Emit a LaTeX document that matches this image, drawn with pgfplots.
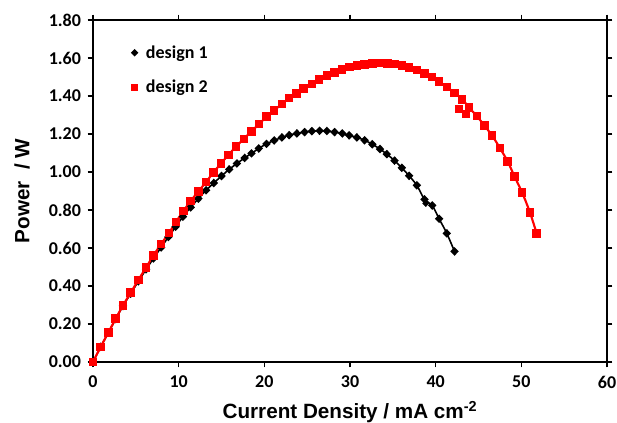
\documentclass[border=0pt]{standalone}
\usepackage{fontspec}
\setmainfont{Liberation Sans}
\newfontfamily\carlito{Carlito}
\usepackage{pgfplots}
\pgfplotsset{compat=1.18}
\definecolor{dred}{RGB}{255,0,0}

\begin{document}
\begin{tikzpicture}
\begin{axis}[
  scale only axis,
  width=385.5pt, height=256.5pt,
  xmin=0, xmax=60, ymin=0, ymax=1.8,
  xtick={0,10,...,60},
  ytick={0,0.2,...,1.8},
  tick align=outside,
  major tick length=4pt,
  axis line style={line width=1.4pt},
  every tick/.style={black, line width=1pt},
  /pgf/number format/assume math mode=true,
  tick label style={font=\carlito\bfseries\fontsize{13.5}{15}\selectfont},
  yticklabel style={xshift=-1.5pt, /pgf/number format/.cd, fixed, fixed zerofill, precision=2},
  xticklabel style={yshift=-3pt, /pgf/number format/.cd, fixed},
  scaled y ticks=false,
  xlabel={Current Density / mA cm\textsuperscript{-2}},
  ylabel={Power \ / W},
  label style={font=\bfseries\fontsize{15.5}{17}\selectfont},
  xlabel style={at={(axis description cs:0.5,0)}, anchor=base, yshift=-42pt},
  ylabel style={at={(axis description cs:-0.138,0.5)}, anchor=center},
  legend style={at={(axis description cs:0.06,0.942)}, anchor=north west,
    draw=none, fill=none, font=\carlito\bfseries\fontsize{13.5}{15}\selectfont,
    row sep=11pt, inner sep=2pt},
  legend cell align=left,
  legend image code/.code={\path (0,0) (0.38cm,0); \draw[#1, mark size=2pt] plot coordinates {(0.18cm,0cm)};},
  clip=false,
]
% design 1
\addplot[black, line width=1.2pt, smooth, mark=diamond*, mark size=2.4pt,
  mark options={xscale=1.3, solid}] coordinates {
(0,0) (0.9,0.08) (1.8,0.155) (2.65,0.226) (3.5,0.295) (4.4,0.36) (5.3,0.425)
(6.2,0.488) (7.05,0.545) (7.95,0.603) (8.8,0.658) (9.65,0.712) (10.5,0.765)
(11.4,0.814) (12.3,0.86) (13.2,0.904) (14.1,0.942) (15.0,0.979) (15.9,1.014)
(16.8,1.045) (17.7,1.074) (18.5,1.098) (19.35,1.124) (20.25,1.148) (21.15,1.166)
(22.05,1.182) (22.9,1.194) (23.8,1.203) (24.7,1.210) (25.55,1.215) (26.45,1.217)
(27.3,1.216) (28.2,1.210) (29.1,1.203) (29.9,1.193) (30.8,1.182) (31.7,1.167)
(32.6,1.146) (33.5,1.121) (34.3,1.094) (35.2,1.06) (36.05,1.022) (36.9,0.98)
(37.8,0.93) (38.7,0.856) (39.6,0.824) (40.4,0.754) (41.3,0.677) (42.2,0.582)
};
\addlegendentry{design 1}
% design 2
\addplot[dred, line width=1.6pt, smooth, mark=square*, mark size=2.4pt,
  mark options={solid}] coordinates {
(0,0) (0.9,0.08) (1.8,0.156) (2.65,0.228) (3.5,0.298) (4.4,0.365) (5.3,0.432)
(6.2,0.498) (7.05,0.56) (7.95,0.621) (8.85,0.678) (9.7,0.738) (10.55,0.795)
(11.4,0.847) (12.3,0.898) (13.2,0.947) (14.05,0.998) (14.95,1.045) (15.8,1.09)
(16.7,1.133) (17.6,1.174) (18.5,1.214) (19.4,1.253) (20.25,1.291) (21.15,1.325)
(22.05,1.358) (22.9,1.389) (23.75,1.414) (24.6,1.44) (25.55,1.463) (26.4,1.488)
(27.3,1.507) (28.2,1.525) (29.05,1.540) (29.95,1.553) (30.8,1.561) (31.7,1.567)
(32.6,1.572) (33.5,1.573) (34.35,1.572) (35.25,1.568) (36.05,1.561) (36.9,1.550)
(37.8,1.537) (38.7,1.518) (39.55,1.50) (40.4,1.476) (41.3,1.447) (42.2,1.417)
(43.1,1.383) (43.9,1.339) (44.8,1.295) (45.7,1.244) (46.6,1.191) (47.5,1.126)
(48.4,1.056) (49.2,0.977) (50.1,0.891) (51.0,0.788) (51.8,0.675)
};
\addlegendentry{design 2}
% off-curve points
\addplot[only marks, black, mark=diamond*, mark size=2.4pt,
  mark options={xscale=1.3}, forget plot] coordinates {(38.85,0.835)};
\addplot[only marks, dred, mark=square*, mark size=2.4pt, forget plot]
  coordinates {(42.7,1.332) (43.5,1.307)};
\end{axis}
\pgfresetboundingbox
\path[use as bounding box] ([shift={(-69.75pt,-45pt)}]current axis.south west)
  rectangle ([shift={(7.5pt,15pt)}]current axis.north east);
\end{tikzpicture}
\end{document}
